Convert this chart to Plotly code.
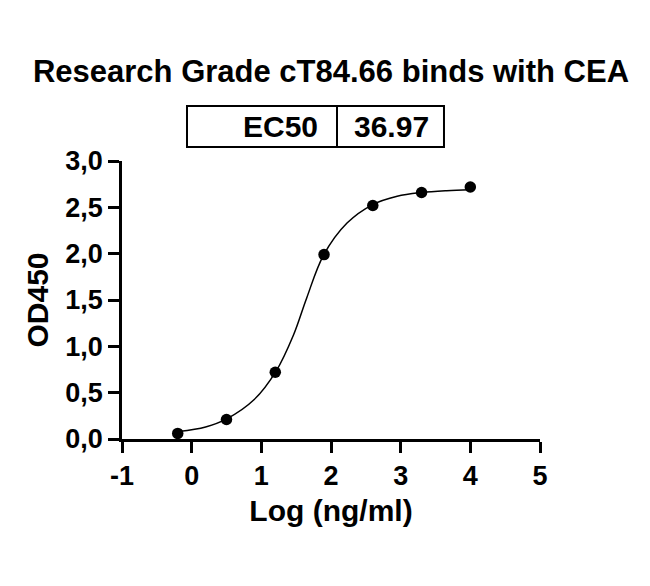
import plotly.graph_objects as go

# measured points (log concentration vs OD450)
log_conc = [-0.2, 0.5, 1.2, 1.9, 2.6, 3.3, 4.0]
od450 = [0.06, 0.21, 0.72, 1.99, 2.52, 2.66, 2.72]

# fitted curve
fit_x = [-0.19, 0.2, 0.51, 0.89, 1.21, 1.46, 1.65, 1.89, 2.23, 2.6, 2.95, 3.3, 3.66, 4.0]
fit_y = [0.08, 0.13, 0.22, 0.42, 0.73, 1.12, 1.52, 1.98, 2.33, 2.53, 2.62, 2.66, 2.68, 2.69]

x_ticks = [-1, 0, 1, 2, 3, 4, 5]
x_ticktext = ["-1", "0", "1", "2", "3", "4", "5"]
y_ticks = [0, 0.5, 1.0, 1.5, 2.0, 2.5, 3.0]
y_ticktext = ["0,0", "0,5", "1,0", "1,5", "2,0", "2,5", "3,0"]

title = "Research Grade cT84.66 binds with CEA"
ec50_label = "EC50"
ec50_value = "36.97"

FONT = "Arial, Liberation Sans, sans-serif"

fig = go.Figure()
fig.add_trace(go.Scatter(x=fit_x, y=fit_y, mode="lines",
                         line=dict(color="black", width=1.5, shape="spline"),
                         showlegend=False, hoverinfo="skip"))
fig.add_trace(go.Scatter(x=log_conc, y=od450, mode="markers",
                         marker=dict(color="black", size=11.5),
                         showlegend=False))

axis_style = dict(showline=True, linecolor="black", linewidth=2.5,
                  ticks="outside", ticklen=11, tickwidth=2.5, tickcolor="black",
                  showgrid=False, zeroline=False,
                  tickfont=dict(family=FONT, size=27, color="black", weight="bold"))

fig.update_xaxes(range=[-1, 5], tickvals=x_ticks, ticktext=x_ticktext,
                 title=dict(text="Log (ng/ml)", standoff=10,
                            font=dict(family=FONT, size=30, color="black", weight="bold")),
                 **axis_style)
fig.update_yaxes(range=[0, 3], tickvals=y_ticks, ticktext=y_ticktext,
                 title=dict(text="OD450", standoff=8,
                            font=dict(family=FONT, size=30, color="black", weight="bold")),
                 **axis_style)

# EC50 table box above the plot
fig.add_shape(type="rect", xref="paper", yref="paper",
              x0=0.1555, x1=0.7703, y0=1.050, y1=1.198,
              line=dict(color="black", width=2))
fig.add_shape(type="line", xref="paper", yref="paper",
              x0=0.5144, x1=0.5144, y0=1.050, y1=1.198,
              line=dict(color="black", width=2))
fig.add_annotation(text=ec50_label, xref="paper", yref="paper", x=0.4737, y=1.124,
                   xanchor="right", yanchor="middle", showarrow=False,
                   font=dict(family=FONT, size=30, color="black", weight="bold"))
fig.add_annotation(text=ec50_value, xref="paper", yref="paper", x=0.5502, y=1.124,
                   xanchor="left", yanchor="middle", showarrow=False,
                   font=dict(family=FONT, size=30, color="black", weight="bold"))

# page body adds an 8px offset, so margins are shifted to compensate
fig.update_layout(
    width=650, height=586,
    margin=dict(l=114, r=118, t=153, b=155),
    plot_bgcolor="white", paper_bgcolor="white",
    title=dict(text=title, x=0.5, xref="paper", y=1 - 63 / 586, yref="container",
               xanchor="center", yanchor="middle",
               font=dict(family=FONT, size=31, color="black", weight="bold")),
)

fig.write_html("out.html")
